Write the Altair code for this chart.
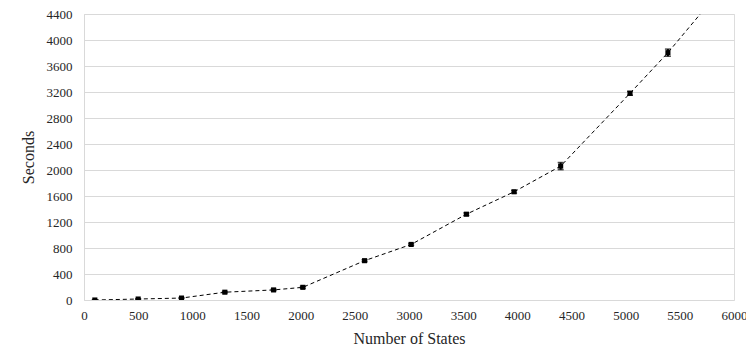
import altair as alt
import pandas as pd

states = [100, 500, 900, 1300, 1750, 2020, 2590, 3020, 3530, 3970, 4400, 5040, 5390, 5900]
seconds = [0, 15, 30, 120, 155, 195, 605, 855, 1320, 1665, 2060, 3180, 3805, 4820]
errors = [4, 5, 6, 10, 10, 15, 15, 15, 20, 20, 55, 30, 55, 60]

df = pd.DataFrame({"states": states, "seconds": seconds, "err": errors})
df["lo"] = df["seconds"] - df["err"]
df["hi"] = df["seconds"] + df["err"]

FONT = "Liberation Serif"
TXT = "#262626"

x_scale = alt.Scale(domain=[0, 6000], nice=False)
y_scale = alt.Scale(domain=[0, 4400], nice=False)

x_axis = alt.Axis(values=list(range(0, 6001, 500)), format="d", grid=False, ticks=False,
                  domain=False, labelFont=FONT, labelFontSize=13, labelColor=TXT,
                  labelOverlap=False, labelFlush=False,
                  labelPadding=9, titleFont=FONT, titleFontSize=16,
                  titleFontWeight="normal", titleColor=TXT, titlePadding=8)
y_axis = alt.Axis(values=list(range(0, 4401, 400)), format="d", grid=True,
                  gridColor="#d9d9d9", labelOverlap=False, labelFlush=False,
                  gridWidth=1, ticks=False, domain=True, domainColor="#d9d9d9",
                  labelFont=FONT, labelFontSize=13, labelColor=TXT, labelPadding=12,
                  titleFont=FONT, titleFontSize=16, titleFontWeight="normal",
                  titleColor=TXT, titlePadding=10)


def X():
    return alt.X("states:Q", title="Number of States", scale=x_scale, axis=x_axis)


def Y(field):
    return alt.Y(field + ":Q", title="Seconds", scale=y_scale, axis=y_axis)


base = alt.Chart(df)

line = base.mark_line(color="#000000", strokeWidth=1, strokeDash=[4, 3], clip=True).encode(
    x=X(), y=Y("seconds"))
bars = base.mark_rule(color="#000000", strokeWidth=2, clip=True).encode(
    x=X(), y=Y("lo"), y2="hi:Q")
cap_lo = base.mark_tick(color="#000000", orient="horizontal", size=6, thickness=1.5, clip=True).encode(
    x=X(), y=Y("lo"))
cap_hi = base.mark_tick(color="#000000", orient="horizontal", size=6, thickness=1.5, clip=True).encode(
    x=X(), y=Y("hi"))
pts = base.mark_square(color="#000000", size=26, opacity=1, filled=True, clip=True).encode(
    x=X(), y=Y("seconds"))

chart = alt.layer(line, bars, cap_lo, cap_hi, pts).properties(
    width=650, height=286,
    autosize=alt.AutoSizeParams(type="none"),
    padding={"left": 76, "top": 6, "right": 12, "bottom": 52},
).configure_view(stroke=None).configure(
    background="#ffffff", font=FONT
).configure_axis(labelFont=FONT, titleFont=FONT)

chart.save("out.html", embed_options={"renderer": "svg", "actions": False})
